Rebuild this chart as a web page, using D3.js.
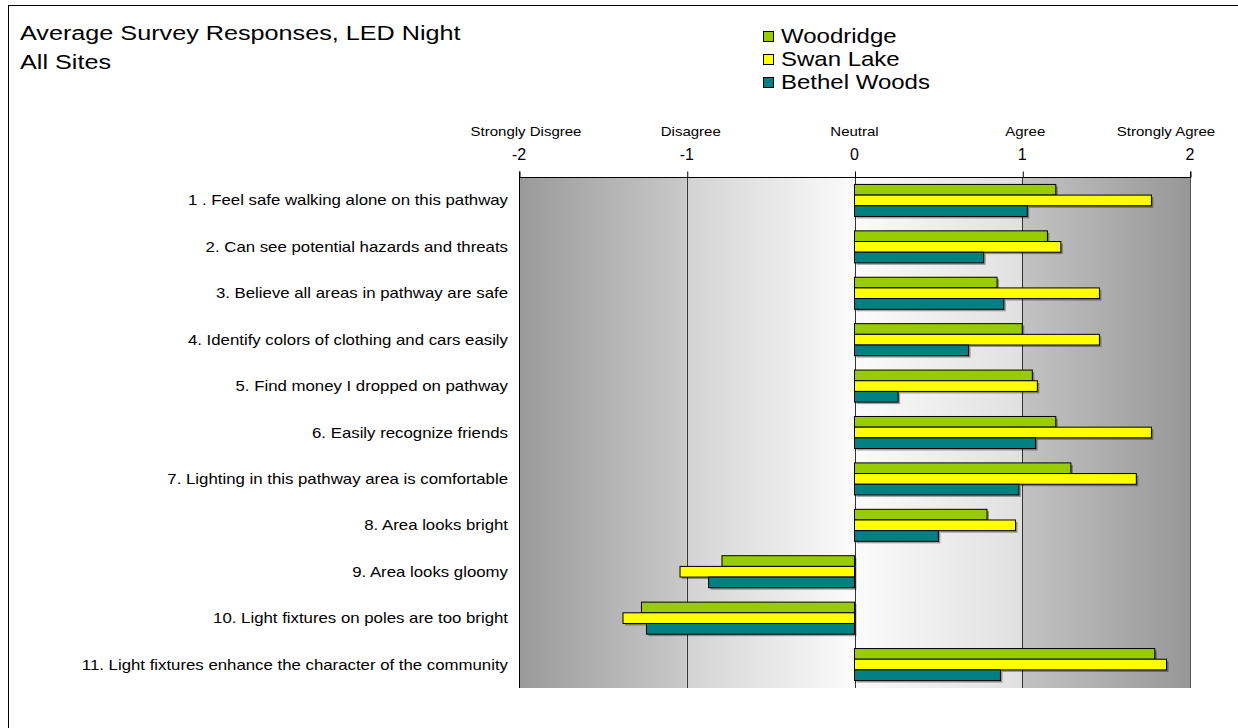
<!DOCTYPE html>
<html><head><meta charset="utf-8">
<script src="https://cdnjs.cloudflare.com/ajax/libs/d3/7.8.5/d3.min.js"></script>
<style>
html,body{margin:0;padding:0;background:#fff;}
svg{display:block;font-family:"Liberation Sans",Arial,sans-serif;}
</style></head><body>
<svg id="chart" width="1238" height="728"></svg>
<script>
const categories = [
  "1 . Feel safe walking alone on this pathway",
  "2. Can see potential hazards and threats",
  "3. Believe all areas in pathway are safe",
  "4. Identify colors of clothing and cars easily",
  "5. Find money I dropped on pathway",
  "6. Easily recognize friends",
  "7. Lighting in this pathway area is comfortable",
  "8. Area looks bright",
  "9. Area looks gloomy",
  "10. Light fixtures on poles are too bright",
  "11. Light fixtures enhance the character of the community"
];
const seriesNames = ["Woodridge", "Swan Lake", "Bethel Woods"];
const woodridge   = [1.20, 1.15, 0.85, 1.00, 1.06, 1.20, 1.29, 0.79, -0.79, -1.27, 1.79];
const swanLake    = [1.77, 1.23, 1.46, 1.46, 1.09, 1.77, 1.68, 0.96, -1.04, -1.38, 1.86];
const bethelWoods = [1.03, 0.77, 0.89, 0.68, 0.26, 1.08, 0.98, 0.50, -0.87, -1.24, 0.87];
const tickValues = [-2, -1, 0, 1, 2];
const tickWords = ["Strongly Disgree", "Disagree", "Neutral", "Agree", "Strongly Agree"];
const seriesColors = ["#99CC00", "#FFFF00", "#008080"];

const seriesData = [woodridge, swanLake, bethelWoods];
const SX = 1.2; // horizontal text stretch seen in the reference

const svg = d3.select("#chart");
const plot = {left: 519, right: 1190, top: 177, bottom: 688};

function stretchedText(sel, xf, yf) {
  return sel.attr("transform", (d, i) => `translate(${xf(d, i)},${yf(d, i)}) scale(${SX},1)`)
    .attr("x", 0).attr("y", 0);
}

// outer frame
svg.append("rect").attr("x", 8.5).attr("y", 5.5).attr("width", 1400).attr("height", 900)
  .attr("fill", "none").attr("stroke", "#000").attr("stroke-width", 1);

// title
const titleLines = ["Average Survey Responses, LED Night", "All Sites"];
stretchedText(svg.append("g").selectAll("text").data(titleLines).join("text")
  .attr("font-size", 21).text(d => d), () => 20, (d, i) => 40 + i * 29);

const x = d3.scaleLinear().domain([-2, 2]).range([plot.left, plot.right]);
const y = d3.scaleBand().domain(categories).range([plot.top, plot.bottom]).paddingInner(0.31).paddingOuter(0.16);
const ySub = d3.scaleBand().domain(seriesNames).range([0, y.bandwidth()]);

// gradients for background bands
const defs = svg.append("defs");
const bands = [
  {from: -2, to: -1, c0: "#9a9a9a", c1: "#c9c9c9"},
  {from: -1, to: 0, c0: "#d3d3d3", c1: "#fbfbfb"},
  {from: 0, to: 1, c0: "#fbfbfb", c1: "#e0e0e0"},
  {from: 1, to: 2, c0: "#c3c3c3", c1: "#979797"}
];
bands.forEach((b, i) => {
  const g = defs.append("linearGradient").attr("id", "bg" + i).attr("x1", "0").attr("x2", "1").attr("y1", "0").attr("y2", "0");
  g.append("stop").attr("offset", "0").attr("stop-color", b.c0);
  g.append("stop").attr("offset", "1").attr("stop-color", b.c1);
  svg.append("rect").attr("x", x(b.from)).attr("y", plot.top)
    .attr("width", x(b.to) - x(b.from)).attr("height", plot.bottom - plot.top)
    .attr("fill", "url(#bg" + i + ")");
});

// gridlines
svg.append("g").selectAll("line").data(tickValues).join("line")
  .attr("x1", d => Math.round(x(d)) + 0.5).attr("x2", d => Math.round(x(d)) + 0.5)
  .attr("y1", plot.top).attr("y2", plot.bottom)
  .attr("stroke", d => (d === -2) ? "#000" : (d === 2 ? "#555" : "#333")).attr("stroke-width", 1);

// top axis
const axis = d3.axisTop(x).tickValues(tickValues).tickSize(6).tickFormat("");
const ag = svg.append("g").attr("transform", `translate(0.5,${plot.top + 0.5})`).call(axis);
ag.selectAll("path,line").attr("stroke", "#000");
ag.select(".domain").attr("d", `M${plot.left},-6V0H${plot.right}V-6`);

// tick numbers and words
svg.append("g").selectAll("text").data(tickValues).join("text")
  .attr("x", d => x(d)).attr("y", 160).attr("text-anchor", "middle")
  .attr("font-size", 16).text(d => d);
const wordShift = [7, 4, 0, 3, -24];
stretchedText(svg.append("g").selectAll("text").data(tickWords).join("text")
  .attr("text-anchor", "middle").attr("font-size", 12.5).text(d => d),
  (d, i) => x(tickValues[i]) + wordShift[i], () => 136);

// bars
const groups = svg.append("g").selectAll("g").data(categories).join("g")
  .attr("transform", d => `translate(0,${y(d)})`);
seriesNames.forEach((s, si) => {
  const vals = seriesData[si];
  groups.append("rect")
    .attr("x", (d, i) => Math.min(x(0), x(vals[i])) + 2)
    .attr("y", ySub(s) + 2)
    .attr("width", (d, i) => Math.abs(x(vals[i]) - x(0)))
    .attr("height", ySub.bandwidth())
    .attr("fill", "rgba(0,0,0,0.35)");
});
seriesNames.forEach((s, si) => {
  const vals = seriesData[si];
  groups.append("rect")
    .attr("x", (d, i) => Math.min(x(0), x(vals[i])))
    .attr("y", ySub(s))
    .attr("width", (d, i) => Math.abs(x(vals[i]) - x(0)))
    .attr("height", ySub.bandwidth())
    .attr("fill", seriesColors[si]).attr("stroke", "#000").attr("stroke-width", 1);
});

// category labels
stretchedText(svg.append("g").selectAll("text").data(categories).join("text")
  .attr("text-anchor", "end").attr("font-size", 14).text(d => d),
  () => 508, d => y(d) + y.bandwidth() / 2 + 5);

// legend
const lg = svg.append("g").selectAll("g").data(seriesNames).join("g")
  .attr("transform", (d, i) => `translate(763,${31 + i * 23})`);
lg.append("rect").attr("x", 0.5).attr("y", 0.5).attr("width", 10).attr("height", 10)
  .attr("fill", (d, i) => seriesColors[i]).attr("stroke", "#000");
stretchedText(lg.append("text").attr("font-size", 20).text(d => d), () => 18, () => 12);
</script>
</body></html>
